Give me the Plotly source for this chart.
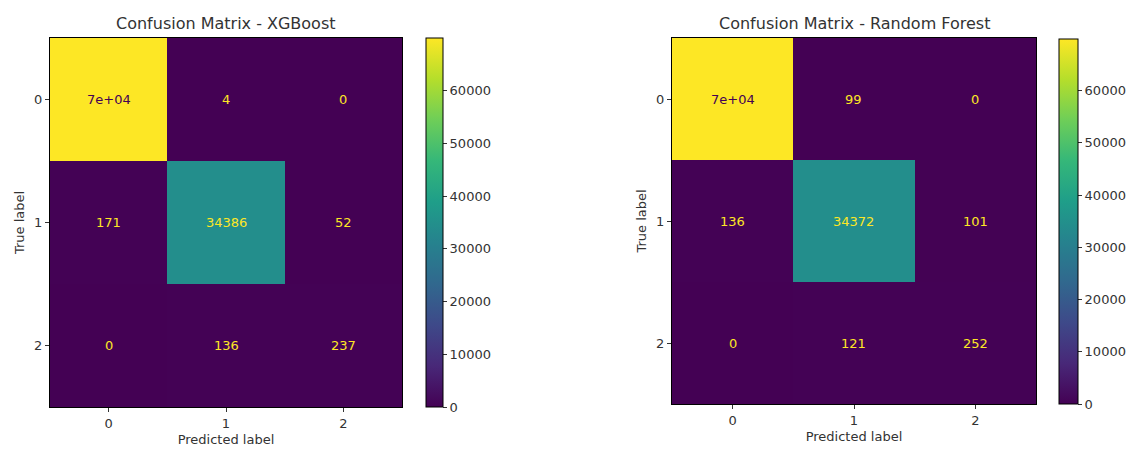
import plotly.graph_objects as go

# ---- data ----
classes = [0, 1, 2]
tick_labels = ["0", "1", "2"]
cm_xgb = [
    [70000, 4, 0],
    [171, 34386, 52],
    [0, 136, 237],
]
cm_rf = [
    [69905, 99, 0],
    [136, 34372, 101],
    [0, 121, 252],
]
titles = ["Confusion Matrix - XGBoost", "Confusion Matrix - Random Forest"]
cbar_ticks = [0, 10000, 20000, 30000, 40000, 50000, 60000]

FONT = "DejaVu Sans"
TXT = "#333333"
VIR_MIN = "#440154"
VIR_MAX = "#fde725"


def fmt(v):
    t = format(v, ".2g")
    d = format(int(v), "d")
    return d if len(d) < len(t) else t


W, H = 1133, 450
panels = [
    dict(cm=cm_xgb, xd=(50, 402), yd=(38, 407), cbx=426, cbw=17, cby=(38, 407)),
    dict(cm=cm_rf, xd=(672, 1036), yd=(38, 404), cbx=1059, cbw=19, cby=(39, 404)),
]

fig = go.Figure()
annotations = []
for k, p in enumerate(panels):
    ax = "" if k == 0 else str(k + 1)
    cm = p["cm"]
    zmax = max(max(r) for r in cm)
    zmin = min(min(r) for r in cm)
    fig.add_trace(go.Heatmap(
        z=cm, x=classes, y=classes,
        xaxis="x" + ax, yaxis="y" + ax,
        colorscale="Viridis", zmin=zmin, zmax=zmax,
        hoverinfo="skip",
        colorbar=dict(
            x=p["cbx"] / W, xanchor="left", xpad=0, ypad=0,
            y=1 - p["cby"][1] / H, yanchor="bottom",
            len=(p["cby"][1] - p["cby"][0]) / H, lenmode="fraction",
            thickness=p["cbw"], thicknessmode="pixels",
            outlinecolor="black", outlinewidth=1,
            tickvals=cbar_ticks, tickformat="d",
            ticks="outside", ticklen=4, tickcolor="#333",
            tickfont=dict(family=FONT, size=13, color=TXT),
        ),
    ))
    thresh = (zmax + zmin) / 2.0
    for i, row in enumerate(cm):
        for j, v in enumerate(row):
            annotations.append(dict(
                x=classes[j], y=classes[i], xref="x" + ax, yref="y" + ax,
                text=fmt(v), showarrow=False,
                font=dict(family=FONT, size=13,
                          color=VIR_MIN if v >= thresh else VIR_MAX),
            ))
    xc = (p["xd"][0] + p["xd"][1]) / 2 / W
    annotations.append(dict(
        x=xc, y=1 - 23 / H, xref="paper", yref="paper",
        text=titles[k], showarrow=False, xanchor="center", yanchor="middle",
        font=dict(family=FONT, size=16, color=TXT),
    ))
    axis_common = dict(
        showline=True, mirror=True, linecolor="black", linewidth=1,
        ticks="outside", ticklen=4, tickcolor="#333",
        showgrid=False, zeroline=False, automargin=False,
        tickfont=dict(family=FONT, size=13, color=TXT),
        tickvals=classes, ticktext=tick_labels,
        range=[-0.5, 2.5],
    )
    fig.update_layout(**{
        "xaxis" + ax: dict(
            axis_common,
            domain=[p["xd"][0] / W, p["xd"][1] / W],
            anchor="y" + ax,
            title=dict(text="Predicted label", standoff=5,
                       font=dict(family=FONT, size=13, color=TXT)),
        ),
        "yaxis" + ax: dict(
            axis_common,
            domain=[1 - p["yd"][1] / H, 1 - p["yd"][0] / H],
            anchor="x" + ax,
            range=[2.5, -0.5],
            title=dict(text="True label", standoff=6,
                       font=dict(family=FONT, size=13, color=TXT)),
        ),
    })

fig.update_layout(
    width=W, height=H,
    margin=dict(l=0, r=0, t=0, b=0),
    paper_bgcolor="white", plot_bgcolor="white",
    annotations=annotations,
    showlegend=False,
    font=dict(family=FONT, color=TXT),
)

fig.write_html(
    "out.html",
    config={"displayModeBar": False},
    post_script="document.body.style.margin='0';document.body.style.overflow='hidden';",
)
